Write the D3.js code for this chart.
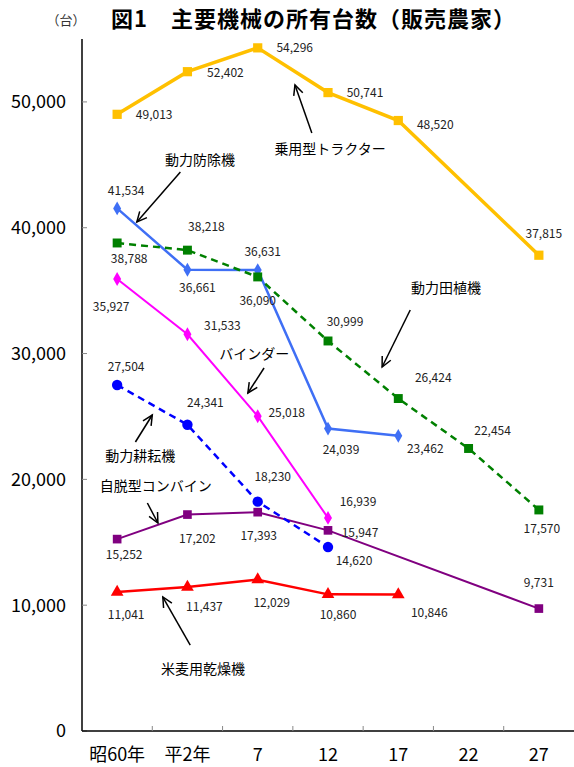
<!DOCTYPE html>
<html>
<head>
<meta charset="utf-8">
<script src="https://cdn.jsdelivr.net/npm/d3@7"></script>
<style>
  body { margin: 0; background: #fff; }
  text { font-family: "Noto Sans CJK JP", "Liberation Sans", sans-serif; }
</style>
</head>
<body>
<svg width="574" height="767"></svg>
<script>
const svg = d3.select("svg");

// categories (survey years)
const years = ["昭60年", "平2年", "7", "12", "17", "22", "27"];
const yTicks = [0, 10000, 20000, 30000, 40000, 50000];

// values per machine, null = not surveyed
const tractor   = [49013, 52402, 54296, 50741, 48520, null, 37815];
const planter   = [38788, 38218, 36090, 30999, 26424, 22454, 17570];
const sprayer   = [41534, 36661, 36631, 24039, 23462, null, null];
const binder    = [35927, 31533, 25018, 16939, null, null, null];
const tiller    = [27504, 24341, 18230, 14620, null, null, null];
const combine   = [15252, 17202, 17393, 15947, null, null, 9731];
const dryer     = [11041, 11437, 12029, 10860, 10846, null, null];

// label offsets (px) from each point
const tractorOff = [[37, 0], [38, 1], [37, 0], [37, 0], [37, 4], null, [5, -22]];
const planterOff = [[12, 16], [19, -23], [0, 24], [17, -19], [35, -21], [24, -18], [3, 19]];
const sprayerOff = [[9, -18], [10, 18], [5, -18], [13, 21], [27, 13]];
const binderOff  = [[-6, 28], [35, -9], [29, -4], [30, -16]];
const tillerOff  = [[9, -18], [18, -22], [15, -25], [26, 14]];
const combineOff = [[7, 16], [10, 24], [1, 24], [32, 2], null, null, [0, -26]];
const dryerOff   = [[9, 23], [17, 20], [14, 23], [10, 20], [31, 18]];

const series = [
  { values: dryer, off: dryerOff, color: "#ff0000", width: 2.5, dash: null, shape: d3.symbolTriangle, size: 70 },
  { values: combine, off: combineOff, color: "#800080", width: 2, dash: null, shape: d3.symbolSquare, size: 75 },
  { values: tiller, off: tillerOff, color: "#0000ff", width: 2.5, dash: "7,5", shape: d3.symbolCircle, size: 85 },
  { values: binder, off: binderOff, color: "#ff00ff", width: 2, dash: null, shape: d3.symbolDiamond, size: 55 },
  { values: sprayer, off: sprayerOff, color: "#3f6ff5", width: 2.5, dash: null, shape: d3.symbolDiamond, size: 55 },
  { values: planter, off: planterOff, color: "#008000", width: 2.5, dash: "7,5", shape: d3.symbolSquare, size: 80 },
  { values: tractor, off: tractorOff, color: "#ffc000", width: 3.5, dash: null, shape: d3.symbolSquare, size: 85 }
];

// annotations: x in category index units, y in data units
const notes = [
  { text: "乗用型トラクター", tx: 3.03, ty: 46257, a: [2.77, 47529, 2.53, 51344] },
  { text: "動力防除機", tx: 1.18, ty: 45383, a: [0.90, 44430, 0.28, 40455] },
  { text: "動力田植機", tx: 4.68, ty: 35210, a: [4.17, 33461, 3.77, 28931] },
  { text: "バインダー", tx: 1.95, ty: 29964, a: [2.09, 28851, 1.86, 26864] },
  { text: "動力耕耘機", tx: 0.33, ty: 21857, a: [0.26, 22970, 0.50, 25116] },
  { text: "自脱型コンバイン", tx: 0.55, ty: 19473, a: [0.43, 18121, 0.58, 16532] },
  { text: "米麦用乾燥機", tx: 1.22, ty: 4928, a: [1.04, 6835, 0.65, 10650] }
];

const plotLeft = 82, plotRight = 574, plotTop = 39, plotBottom = 731;

const x = d3.scaleBand().domain(years).range([plotLeft, plotRight]).padding(0);
const bw = x.bandwidth();
const cx = function (i) { return x(years[i]) + bw / 2; };
const xi = d3.scaleLinear().domain([0, 1]).range([cx(0), cx(1)]); // fractional index -> px
const y = d3.scaleLinear().domain([0, 55000]).range([plotBottom, plotTop]);

// title
svg.append("text").attr("x", 66).attr("y", 25).attr("text-anchor", "middle")
  .attr("font-size", 13).attr("fill", "#333").text("（台）");
svg.append("text").attr("x", 111).attr("y", 27)
  .attr("font-size", 22).attr("font-weight", "bold").attr("letter-spacing", 1).attr("fill", "#000")
  .text("図1　主要機械の所有台数（販売農家）");

// y axis
const gy = svg.append("g");
gy.append("line").attr("x1", plotLeft).attr("x2", plotLeft).attr("y1", plotTop).attr("y2", plotBottom)
  .attr("stroke", "#000").attr("stroke-width", 1.5);
gy.selectAll(".tk").data(yTicks).join("line")
  .attr("x1", plotLeft).attr("x2", plotLeft + 5)
  .attr("y1", function (d) { return y(d); }).attr("y2", function (d) { return y(d); })
  .attr("stroke", "#888");
gy.selectAll("text").data(yTicks).join("text")
  .attr("x", 66).attr("y", function (d) { return y(d); }).attr("dy", "0.36em")
  .attr("text-anchor", "end").attr("font-size", 18).attr("fill", "#000")
  .text(function (d) { return d3.format(",")(d); });

// x axis
const gx = svg.append("g");
gx.append("line").attr("x1", plotLeft).attr("x2", plotRight).attr("y1", plotBottom).attr("y2", plotBottom)
  .attr("stroke", "#000").attr("stroke-width", 1.5);
gx.selectAll(".tk").data(years.slice(1)).join("line")
  .attr("x1", function (d) { return x(d); }).attr("x2", function (d) { return x(d); })
  .attr("y1", plotBottom).attr("y2", plotBottom - 5).attr("stroke", "#888");
gx.selectAll("text").data(years).join("text")
  .attr("x", function (d) { return x(d) + bw / 2; }).attr("y", 761)
  .attr("text-anchor", "middle").attr("font-size", 18).attr("fill", "#000")
  .text(function (d) { return d; });

// lines, markers, labels
const line = d3.line().x(function (d) { return cx(d.i); }).y(function (d) { return y(d.v); });

series.forEach(function (s) {
  const pts = s.values.map(function (v, i) { return { v: v, i: i, off: s.off[i] }; })
    .filter(function (d) { return d.v != null; });
  const g = svg.append("g");
  g.append("path").datum(pts).attr("d", line)
    .attr("fill", "none").attr("stroke", s.color).attr("stroke-width", s.width)
    .attr("stroke-dasharray", s.dash);
  g.selectAll("path.m").data(pts).join("path").attr("class", "m")
    .attr("transform", function (d) { return "translate(" + cx(d.i) + "," + y(d.v) + ")"; })
    .attr("d", d3.symbol().type(s.shape).size(s.size))
    .attr("fill", s.color);
  g.selectAll("text").data(pts).join("text")
    .attr("x", function (d) { return cx(d.i) + d.off[0]; })
    .attr("y", function (d) { return y(d.v) + d.off[1]; })
    .attr("dy", "0.36em").attr("text-anchor", "middle")
    .attr("font-size", 12).attr("fill", "#222")
    .text(function (d) { return d3.format(",")(d.v); });
});

// annotation arrows
const ga = svg.append("g");
notes.forEach(function (n) {
  const x1 = xi(n.a[0]), y1 = y(n.a[1]), x2 = xi(n.a[2]), y2 = y(n.a[3]);
  const ang = Math.atan2(y2 - y1, x2 - x1);
  const L = 11, w = 0.45;
  ga.append("line").attr("x1", x1).attr("y1", y1).attr("x2", x2).attr("y2", y2)
    .attr("stroke", "#000").attr("stroke-width", 1.5);
  ga.append("path")
    .attr("d", "M" + (x2 - L * Math.cos(ang - w)) + "," + (y2 - L * Math.sin(ang - w)) +
      "L" + x2 + "," + y2 +
      "L" + (x2 - L * Math.cos(ang + w)) + "," + (y2 - L * Math.sin(ang + w)))
    .attr("fill", "none").attr("stroke", "#000").attr("stroke-width", 1.5);
  ga.append("text").attr("x", xi(n.tx)).attr("y", y(n.ty)).attr("dy", "0.36em")
    .attr("text-anchor", "middle").attr("font-size", 14).attr("fill", "#000")
    .text(n.text);
});
</script>
</body>
</html>
